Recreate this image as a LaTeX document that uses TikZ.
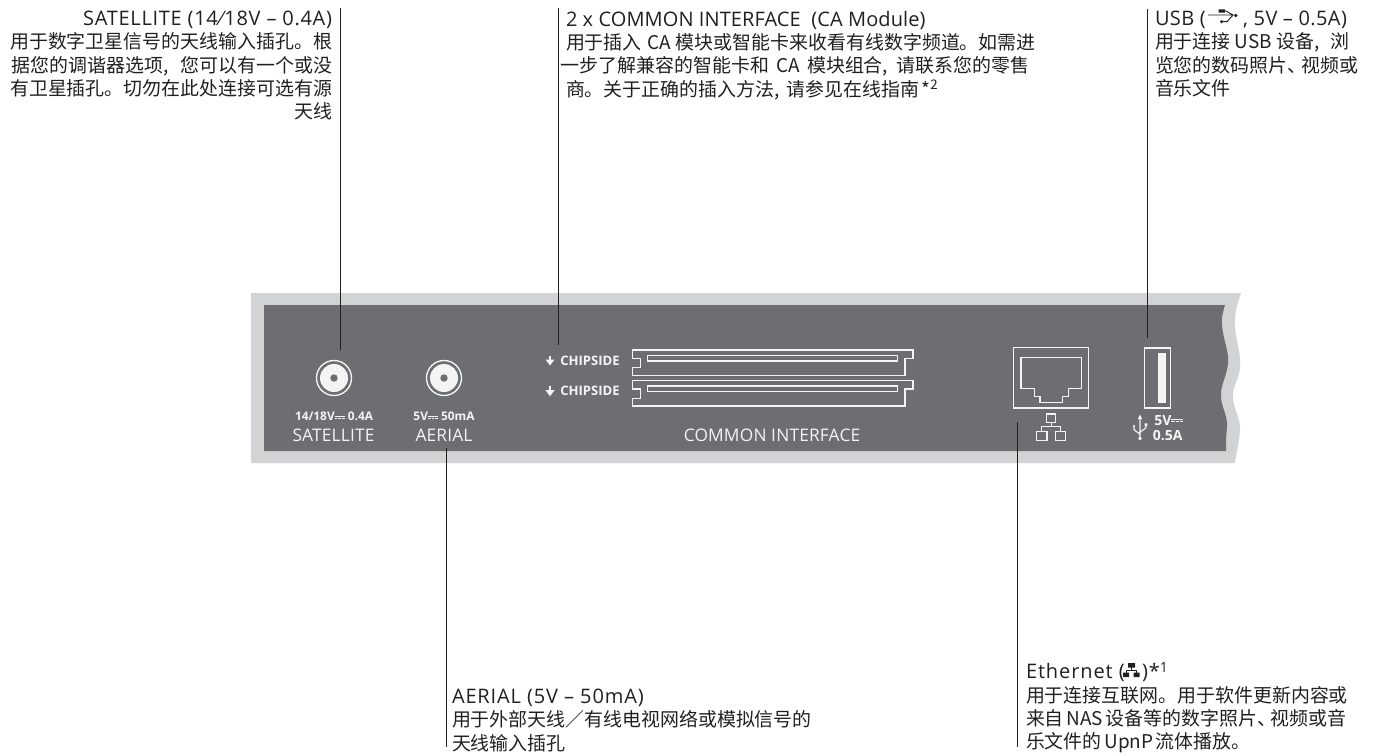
\documentclass[tikz,border=0pt]{standalone}
\usepackage{fontspec}
\setmainfont{Open Sans}
\newfontfamily\cjkfont{Noto Sans CJK SC}
\definecolor{panel}{HTML}{6D6E71}
\definecolor{rim}{HTML}{D1D3D4}
\definecolor{ink}{HTML}{231F20}
\definecolor{pale}{HTML}{F4F4F5}
\newcommand\dcsym{\rlap{\raisebox{.36em}{\rule{.85em}{.07em}}}\raisebox{.2em}{\rule{.23em}{.07em}\hspace{.08em}\rule{.23em}{.07em}\hspace{.08em}\rule{.23em}{.07em}}}
\newcommand\hdr[2]{{\rmfamily\fontsize{15}{17.5}\selectfont\addfontfeature{LetterSpace=#1}#2}}
\tikzset{
  x=.75pt,y=-.75pt,
  leader/.style={draw=ink,line width=.75pt},
  wire/.style={draw=pale,line width=1pt},
  note/.style={inner sep=0pt,outer sep=0pt,text=ink,font=\cjkfont\fontsize{14.2}{17.5}\selectfont},
  plabel/.style={inner sep=0pt,text=pale,anchor=base,font=\fontsize{13}{14}\selectfont\addfontfeature{LetterSpace=1}},
  smalltxt/.style={inner sep=0pt,text=pale,anchor=base,font=\bfseries\fontsize{8.9}{10}\selectfont},
}
\begin{document}
\begin{tikzpicture}
\useasboundingbox (0,0) rectangle (1376,753);
% panel
\fill[rim] (251,293) -- (1241,293) .. controls (1236,307) and (1234,318) .. (1235,327)
  .. controls (1236,342) and (1241,352) .. (1240,367) .. controls (1239,380) and (1233,385) .. (1233,395)
  .. controls (1233,410) and (1241,418) .. (1240,430) .. controls (1239,445) and (1236,452) .. (1235,463) -- (251,463) -- cycle;
\fill[panel] (264,305) -- (1225,305) .. controls (1223,312) and (1221,318) .. (1222,325)
  .. controls (1223,340) and (1229,350) .. (1228,363) .. controls (1227,376) and (1221,383) .. (1221,395)
  .. controls (1221,408) and (1228,415) .. (1227,427) .. controls (1226,438) and (1226,445) .. (1226,451) -- (264,451) -- cycle;
% jacks
\draw[pale,line width=1pt] (334,378) circle[radius=17.5];
\fill[pale] (334,378) circle[radius=14];
\fill[panel] (334,378) circle[radius=3.7];
\draw[pale,line width=1pt] (444,378) circle[radius=17.5];
\fill[pale] (444,378) circle[radius=14];
\fill[panel] (444,378) circle[radius=3.7];
\node[smalltxt] (satv) at (334,420.7) {14/18V\dcsym\ 0.4A};
\node[smalltxt] (aerv) at (444,420.7) {5V\dcsym\ 50mA};
\node[plabel] (satl) at (333.5,441.5) {SATELLITE};
\node[plabel] (aerl) at (444,441.5) {AERIAL};
% slots
\foreach \d in {0,30.7}{
  \draw[wire,line join=miter] (632.3,350+\d) -- (913,350+\d) -- (913,358.3+\d) -- (905,358.3+\d) -- (905,375.3+\d) -- (632.3,375.3+\d) -- (632.3,367.7+\d) -- (640.7,367.7+\d) -- (640.7,358.3+\d) -- (632.3,358.3+\d) -- cycle;
  \draw[wire] (647.7,355.3+\d) rectangle (897.3,361+\d);
  \draw[pale,line width=1pt] (550,355.5+\d) -- (550,362+\d);
  \fill[pale] (545.5,359.5+\d) -- (554.5,359.5+\d) -- (550,365.5+\d) -- cycle;
}
\node[smalltxt,anchor=base west,font=\bfseries\fontsize{9.8}{11}\selectfont] (chipa) at (560,365) {CHIPSIDE};
\node[smalltxt,anchor=base west,font=\bfseries\fontsize{9.8}{11}\selectfont] (chipb) at (560,395) {CHIPSIDE};
\node[plabel] (cil) at (772,441.5) {COMMON INTERFACE};
% ethernet
\draw[wire] (1013.3,347.5) rectangle (1088.7,408);
\draw[wire] (1021,357.7) -- (1081.7,357.7) -- (1081.7,388.5) -- (1068.3,388.5) -- (1068.3,396.7) -- (1062.3,396.7) -- (1062.3,402.7) -- (1040,402.7) -- (1040,396.7) -- (1034.3,396.7) -- (1034.3,388.5) -- (1021,388.5) -- cycle;
\draw[pale,line width=.9pt] (1046.7,414) rectangle (1055.7,422.7) (1051.2,422.7) -- (1051.2,426.7) (1041.7,431.7) -- (1041.7,426.7) -- (1060.7,426.7) -- (1060.7,431.7) (1036.7,431.7) rectangle (1047,440.7) (1055.7,431.7) rectangle (1065.7,440.7);
% usb
\draw[wire] (1144.3,348) rectangle (1170.3,408);
\fill[pale] (1158,353) rectangle (1166,403);
\draw[pale,line width=.9pt] (1140,418) -- (1140,438) (1134,426) -- (1134,429) .. controls (1134,431) and (1140,433) .. (1140,435) (1146,425) -- (1146,427) .. controls (1146,429) and (1140,431) .. (1140,433);
\fill[pale] (1140,414.5) -- (1142.2,419) -- (1137.8,419) -- cycle (1140,438.5) circle[radius=1.8] (1134,426) circle[radius=1.2] (1144.7,423.3) rectangle (1147.3,425.9);
\node[smalltxt,anchor=base west,font=\bfseries\fontsize{10.5}{12}\selectfont] (usba) at (1154,425) {5V\dcsym};
\node[smalltxt,anchor=base west,font=\bfseries\fontsize{10.5}{12}\selectfont] (usbb) at (1152.5,440) {0.5A};
% leader ends
\coordinate (l1a) at (340,8); \coordinate (l1b) at (340,350);
\coordinate (l2a) at (558,8); \coordinate (l2b) at (558,345);
\coordinate (l3a) at (1147,9); \coordinate (l3b) at (1147,338);
\coordinate (l4a) at (446,448); \coordinate (l4b) at (446,747);
\coordinate (l5a) at (1017,422); \coordinate (l5b) at (1017,747);
\draw[leader] (l1a) -- (l1b);
\draw[leader] (l2a) -- (l2b);
\draw[leader] (l3a) -- (l3b);
\draw[leader] (l4a) -- (l4b);
\draw[leader] (l5a) -- (l5b);
% notes
\node[note,anchor=north east,align=right] (n1) at (332,11) {\hdr{3.5}{SATELLITE (14\hspace{1.5pt}⁄\hspace{1.5pt}18V – 0.4A)}\\用于数字卫星信号的天线输入插孔。根\\据您的调谐器选项,\hspace{6pt} 您可以有一个或没\\有卫星插孔。切勿在此处连接可选有源\\天线};
\node[note,anchor=north west,align=left] (n2) at (566,11) {\hdr{.5}{2 x COMMON INTERFACE\ \ (CA Module)}\\用于插入\hspace{4pt}CA\hspace{4pt}模块或智能卡来收看有线数字频道。如需进\\\hspace{-4pt}一步了解兼容的智能卡和\hspace{5.5pt}CA\hspace{5.5pt}模块组合,\hspace{3pt} 请联系您的零售\\商。关于正确的插入方法,\hspace{2pt} 请参见在线指南\hspace{2pt}*\textsuperscript{2}};
\node[note,anchor=north west,align=left] (n3) at (1155,11) {\hdr{2}{USB (\hspace{28pt}, 5V – 0.5A)}\\用于连接 USB 设备,\hspace{5pt} 浏\\览您的数码照片、\hspace{-4pt}视频或\\音乐文件};
\node[note,anchor=north west,align=left] (n4) at (452,689) {\hdr{4.3}{AERIAL (5V – 50mA)}\\用于外部天线／有线电视网络或模拟信号的\\天线输入插孔};
\node[note,anchor=north west,align=left] (n5) at (1026,662) {\hdr{4.5}{Ethernet (\hspace{13pt})*\textsuperscript{1}}\\用于连接互联网。用于软件更新内容或\\来自\hspace{2pt}NAS\hspace{2pt}设备等的数字照片、\hspace{-4pt}视频或音\\乐文件的\hspace{2pt}UpnP\hspace{2pt}流体播放。};
% inline icons
\draw[ink,line width=.7pt] (1208,15) -- (1233,15) (1221,11) -- (1226,11) -- (1233,15) -- (1227,21.7) -- (1222,21.7);
\fill[ink] (1235.8,15.5) circle[radius=1.9] (1218.5,9.3) rectangle (1225,12.7) (1221.5,21.7) circle[radius=1.7];
\fill[ink] (1128,663) rectangle (1135,667.5) (1123,672.5) rectangle (1129,677) (1133.5,672.5) rectangle (1139.5,677);
\draw[ink,line width=.6pt] (1131.5,667) -- (1131.5,670) (1126,673) -- (1126,670) -- (1136.5,670) -- (1136.5,673);
\end{tikzpicture}
\end{document}
